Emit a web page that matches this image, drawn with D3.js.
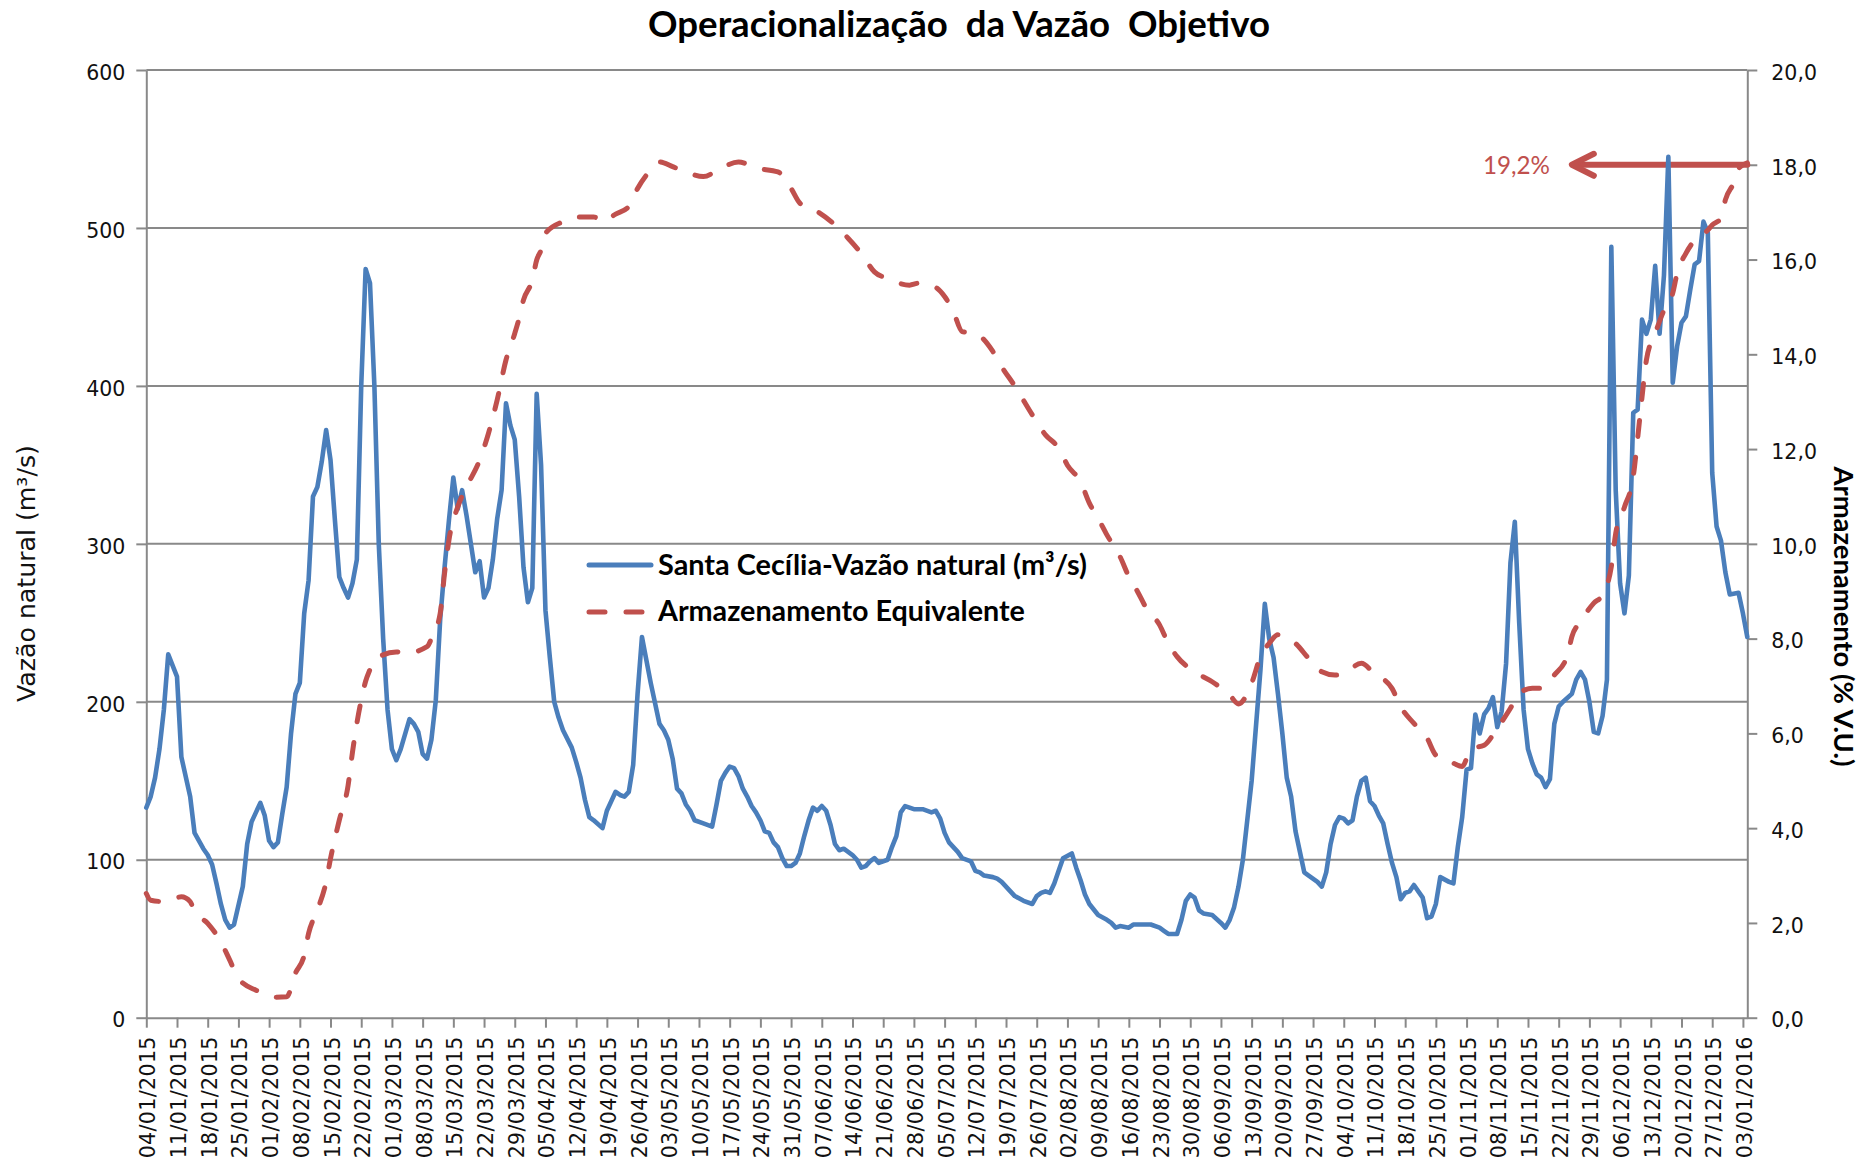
<!DOCTYPE html>
<html>
<head>
<meta charset="utf-8">
<script src="https://cdn.jsdelivr.net/npm/d3@7"></script>
<style>
  html, body { margin: 0; padding: 0; background: #ffffff; }
  svg { display: block; }
</style>
</head>
<body>
<svg id="chart" width="1860" height="1163"></svg>
<script>
// ---------------- DATA ----------------
const chartTitle = "Operacionalização  da Vazão  Objetivo";
const leftAxisTitle = "Vazão natural (m³/s)";
const rightAxisTitle = "Armazenamento (% V.U.)";
const seriesNames = ["Santa Cecília-Vazão natural (m³/s)", "Armazenamento Equivalente"];

const startDate = "2015-01-04";   // first day of the series
const endDate = "2016-01-04";     // last day of the series

const weekLabels = ["04/01/2015","11/01/2015","18/01/2015","25/01/2015","01/02/2015","08/02/2015","15/02/2015","22/02/2015",
  "01/03/2015","08/03/2015","15/03/2015","22/03/2015","29/03/2015","05/04/2015","12/04/2015","19/04/2015","26/04/2015",
  "03/05/2015","10/05/2015","17/05/2015","24/05/2015","31/05/2015","07/06/2015","14/06/2015","21/06/2015","28/06/2015",
  "05/07/2015","12/07/2015","19/07/2015","26/07/2015","02/08/2015","09/08/2015","16/08/2015","23/08/2015","30/08/2015",
  "06/09/2015","13/09/2015","20/09/2015","27/09/2015","04/10/2015","11/10/2015","18/10/2015","25/10/2015",
  "01/11/2015","08/11/2015","15/11/2015","22/11/2015","29/11/2015","06/12/2015","13/12/2015","20/12/2015","27/12/2015","03/01/2016"];

const leftTicks = [0, 100, 200, 300, 400, 500, 600];
const rightTicks = [0, 2, 4, 6, 8, 10, 12, 14, 16, 18, 20];

// Santa Cecília natural flow (m3/s): day index since 04/01/2015 and value
const flowDay = [0,1,2,3,4,5,7,8,10,11,
  13,14,15,16,17,18,19,20,22,23,
  24,25,26,27,28,29,30,31,32,33,
  34,35,36,37,38,39,40,41,42,43,
  44,45,46,47,48,49,50,51,52,53,
  54,55,56,57,58,60,61,62,63,64,
  65,66,67,68,69,70,71,72,73,74,
  75,76,77,78,79,80,81,82,83,84,
  85,86,87,88,89,90,91,92,93,94,
  95,97,98,99,100,101,102,104,105,106,
  107,108,109,110,111,112,113,115,117,118,
  119,120,121,122,123,124,125,127,129,130,
  131,132,133,134,135,136,137,138,139,140,
  141,142,143,144,145,146,147,148,149,150,
  151,152,153,154,155,156,157,158,159,160,
  161,162,163,164,165,166,167,168,169,170,
  171,172,173,175,177,179,180,181,182,183,
  184,185,186,188,189,190,191,193,194,195,
  196,197,198,200,202,203,204,205,206,207,
  208,209,211,212,213,214,215,217,219,220,
  221,222,224,225,229,231,232,233,235,236,
  237,238,239,240,241,243,245,246,247,248,
  249,250,251,252,253,254,255,256,257,258,
  259,260,261,262,263,264,265,267,268,269,
  270,271,272,273,274,275,276,277,278,279,
  280,281,282,283,284,285,286,287,288,289,
  290,291,292,293,294,295,297,298,299,300,
  301,302,303,304,305,306,307,308,309,310,
  311,312,313,314,315,316,317,318,319,320,
  321,322,323,325,326,327,328,329,330,331,
  332,333,334,335,336,337,338,339,340,341,
  342,343,344,345,346,347,348,349,350,351,
  352,353,354,355,356,357,358,359,360,361,
  363,364,365];
const flowValue = [133,140,152,170,195,230,216,165,140,117,
  107,103,97,85,72,62,57,59,83,110,
  124,130,136,128,112,108,111,129,146,180,
  205,212,256,277,330,336,352,372,353,315,
  279,272,266,275,290,400,474,465,400,300,
  240,195,170,163,170,189,186,181,167,164,
  176,201,252,285,315,342,322,334,318,300,
  282,289,266,272,290,316,334,389,375,366,
  330,285,263,272,395,350,258,228,200,190,
  182,171,162,152,138,127,125,120,131,137,
  143,141,140,143,160,205,241,212,186,182,
  176,164,145,142,135,131,125,123,121,135,
  150,155,159,158,153,145,140,134,130,125,
  118,117,111,108,101,96,96,98,104,115,
  125,133,131,134,131,122,110,106,107,105,
  103,100,95,96,99,101,98,99,100,108,
  115,130,134,132,132,130,131,126,117,111,
  108,105,101,99,93,92,90,89,88,86,
  83,80,77,74,72,77,79,80,79,85,
  93,101,104,95,87,78,72,65,62,60,
  57,58,57,59,59,57,55,53,53,62,
  74,78,76,68,66,65,60,57,62,70,
  83,100,125,150,185,220,262,240,228,205,
  180,152,140,118,105,92,90,86,83,92,
  110,122,127,126,123,125,140,150,152,137,
  134,128,123,110,98,89,75,79,80,84,
  80,76,63,64,72,89,86,85,108,127,
  157,158,192,180,192,196,203,184,194,224,
  288,314,250,195,170,161,154,152,146,151,
  186,197,200,205,214,219,214,200,181,180,
  191,214,488,334,275,256,280,383,385,442,
  433,442,476,433,470,545,402,425,440,444,
  461,477,479,504,497,345,311,302,282,268,
  269,256,241];

// Equivalent storage (% V.U.): day index since 04/01/2015 and value
const storageDay = [0,1,4,8,10,11,14,17,19,21,
  25,27,29,32,34,36,37,39,41,
  42,44,46,47,48,49,50,51,52,57,
  59,64,65,67,68,69,71,73,76,78,
  80,82,84,85,86,88,89,90,91,95,
  98,102,104,107,110,112,115,117,120,123,
  127,131,135,139,144,147,149,153,157,160,
  163,166,169,174,176,180,182,184,186,189,
  193,195,198,202,205,208,210,213,215,217,
  219,222,224,226,228,231,233,235,239,243,
  247,249,252,254,256,258,262,265,268,271,
  273,277,280,284,286,289,292,294,298,300,
  302,305,308,311,313,316,318,321,324,325,
  327,330,332,334,335,337,339,340,341,342,
  344,346,348,349,351,353,356,357,359,360,
  362,363,365];
const storageValue = [2.62,2.48,2.45,2.55,2.45,2.24,1.99,1.60,1.22,0.83,
  0.58,0.51,0.43,0.44,0.94,1.32,1.78,2.27,2.87,
  3.36,4.17,4.9,5.6,6.21,6.70,7.1,7.35,7.55,7.72,
  7.69,7.83,8.0,8.53,9.38,10.08,10.78,11.2,11.77,12.33,
  13.04,13.88,14.44,14.76,15.15,15.57,15.99,16.2,16.55,16.8,
  16.9,16.9,16.8,16.96,17.12,17.5,17.89,18.06,17.96,17.85,
  17.75,17.93,18.06,17.93,17.85,17.5,17.19,17.01,16.73,16.45,
  16.13,15.74,15.6,15.46,15.5,15.41,15.22,14.9,14.48,14.44,
  14.06,13.74,13.33,12.72,12.3,12.02,11.66,11.31,10.86,10.54,
  10.19,9.73,9.31,8.99,8.64,8.29,7.9,7.62,7.3,7.09,
  6.81,6.62,7.06,7.62,7.9,8.08,7.9,7.58,7.3,7.23,
  7.26,7.48,7.26,6.95,6.56,6.21,5.9,5.54,5.37,5.3,
  5.68,5.75,6.11,6.53,6.85,6.95,6.95,7.23,7.65,8.04,
  8.36,8.75,8.92,9.52,10.22,10.78,11.42,12.23,13.1,13.88,
  14.44,14.93,15.29,15.71,16.13,16.41,16.62,16.73,16.87,17.26,
  17.64,17.92,18.04];

// Annotation: arrow at the 18,0 level of the right axis
const annotationText = "19,2%";
const annotationLevel = 18.0;
const annotationTipDay = 325;

// ---------------- CHART ----------------
const blue = "#4a7ebb", red = "#c0504d", gridColor = "#898989", textColor = "#111111";
const plot = { left: 146.3, right: 1747.3, top: 70, bottom: 1017.7 };

const parseISO = d3.utcParse("%Y-%m-%d");
const parseLabel = d3.utcParse("%d/%m/%Y");
const t0 = parseISO(startDate), t1 = parseISO(endDate);

const x = d3.scaleUtc().domain([t0, t1]).range([plot.left, plot.right]);
const yL = d3.scaleLinear().domain([0, 600]).range([plot.bottom, plot.top]);
const yR = d3.scaleLinear().domain([0, 20]).range([plot.bottom, plot.top]);

const flow = flowDay.map((d, i) => ({ date: d3.utcDay.offset(t0, d), v: flowValue[i] }));
const storage = storageDay.map((d, i) => ({ date: d3.utcDay.offset(t0, d), v: storageValue[i] }));

const svg = d3.select("#chart");

function fitWidth(sel, target) {
  const w = sel.node().getComputedTextLength();
  const fs = parseFloat(sel.attr("font-size"));
  sel.attr("font-size", fs * target / w);
}

// gridlines
svg.append("g").selectAll("line")
  .data(leftTicks.filter(v => v > 0)).join("line")
  .attr("x1", plot.left).attr("x2", plot.right)
  .attr("y1", d => yL(d)).attr("y2", d => yL(d))
  .attr("stroke", gridColor).attr("stroke-width", 2);

function styleAxis(g) {
  g.select(".domain").attr("stroke", gridColor).attr("stroke-width", 2);
  g.selectAll(".tick line").attr("stroke", gridColor).attr("stroke-width", 2);
  g.selectAll(".tick text").attr("font-family", "DejaVu Sans").attr("font-size", 20.5).attr("fill", textColor);
}

// left axis
const gL = svg.append("g").attr("transform", `translate(${plot.left},0)`)
  .call(d3.axisLeft(yL).tickValues(leftTicks).tickSize(10).tickSizeOuter(0).tickPadding(11));
styleAxis(gL);
gL.selectAll(".tick text").attr("dy", "0.45em");

// right axis
const commaFmt = d => d3.format(".1f")(d).replace(".", ",");
const gR = svg.append("g").attr("transform", `translate(${plot.right},0)`)
  .call(d3.axisRight(yR).tickValues(rightTicks).tickFormat(commaFmt).tickSize(10).tickSizeOuter(0).tickPadding(14));
styleAxis(gR);
gR.selectAll(".tick text").attr("dy", "0.45em");

// bottom axis
const weekDates = weekLabels.map(parseLabel);
const gB = svg.append("g").attr("transform", `translate(0,${plot.bottom})`)
  .call(d3.axisBottom(x).tickValues(weekDates).tickFormat((d, i) => weekLabels[i]).tickSize(10).tickSizeOuter(0));
styleAxis(gB);
gB.selectAll(".tick text")
  .attr("transform", "rotate(-90)")
  .attr("text-anchor", "end")
  .attr("x", -18.5).attr("y", 8.5).attr("dy", "0")
  .attr("letter-spacing", 0.4);

// annotation arrow (drawn beneath the series)
const ay = yR(annotationLevel);
const axTip = x(d3.utcDay.offset(t0, annotationTipDay));
const axEnd = x(t1);
svg.append("line").attr("x1", axEnd).attr("x2", axTip + 3).attr("y1", ay).attr("y2", ay)
  .attr("stroke", red).attr("stroke-width", 6).attr("stroke-linecap", "round");
svg.append("path").attr("d", `M${axTip + 22},${ay - 11}L${axTip},${ay}L${axTip + 22},${ay + 11}`)
  .attr("fill", "none").attr("stroke", red).attr("stroke-width", 6)
  .attr("stroke-linecap", "round").attr("stroke-linejoin", "round");
const ann = svg.append("text").attr("x", axTip - 22).attr("y", ay + 9)
  .attr("text-anchor", "end").attr("font-family", "Lato").attr("font-size", 24)
  .attr("fill", red).text(annotationText);
fitWidth(ann, 67);

// series
const lineFlow = d3.line().x(d => x(d.date)).y(d => yL(d.v));
const lineStorage = d3.line().x(d => x(d.date)).y(d => yR(d.v)).curve(d3.curveMonotoneX);

svg.append("path").datum(flow).attr("d", lineFlow)
  .attr("fill", "none").attr("stroke", blue).attr("stroke-width", 4.6)
  .attr("stroke-linejoin", "round").attr("stroke-linecap", "round");

svg.append("path").datum(storage).attr("d", lineStorage)
  .attr("fill", "none").attr("stroke", red).attr("stroke-width", 5)
  .attr("stroke-dasharray", "16,21").attr("stroke-linecap", "round").attr("stroke-linejoin", "round");

// legend
svg.append("line").attr("x1", 589).attr("x2", 651).attr("y1", 565).attr("y2", 565)
  .attr("stroke", blue).attr("stroke-width", 5).attr("stroke-linecap", "round");
svg.append("line").attr("x1", 589).attr("x2", 651).attr("y1", 612).attr("y2", 612)
  .attr("stroke", red).attr("stroke-width", 5).attr("stroke-linecap", "round").attr("stroke-dasharray", "16,21");
const l1 = svg.append("text").attr("x", 658).attr("y", 575).attr("font-family", "Lato").attr("font-weight", 700)
  .attr("font-size", 26).attr("fill", "#000").text(seriesNames[0]);
fitWidth(l1, 429);
const l2 = svg.append("text").attr("x", 658).attr("y", 621).attr("font-family", "Lato").attr("font-weight", 700)
  .attr("font-size", 26).attr("fill", "#000").text(seriesNames[1]);
fitWidth(l2, 367);

// title (double spaces preserved as in the original)
const tt = svg.append("text").attr("x", 959).attr("y", 37).attr("text-anchor", "middle")
  .attr("font-family", "Lato").attr("font-weight", 700).attr("font-size", 31).attr("fill", "#000")
  .attr("xml:space", "preserve").style("white-space", "pre")
  .text(chartTitle);
fitWidth(tt, 622);

// left axis title
const lt = svg.append("text").attr("transform", `translate(34.5,573.5) rotate(-90)`)
  .attr("text-anchor", "middle").attr("font-family", "DejaVu Sans").attr("font-size", 25)
  .attr("fill", textColor).text(leftAxisTitle);
fitWidth(lt, 257);

// right axis title
const rt = svg.append("text").attr("transform", `translate(1833.5,616.5) rotate(90)`)
  .attr("text-anchor", "middle").attr("font-family", "Lato").attr("font-weight", 700).attr("font-size", 26)
  .attr("fill", "#000").text(rightAxisTitle);
fitWidth(rt, 300);
</script>
</body>
</html>
